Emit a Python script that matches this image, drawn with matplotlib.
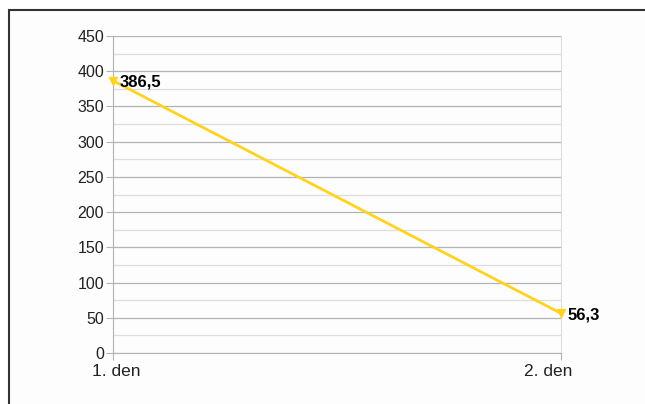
import matplotlib
matplotlib.use("Agg")
import matplotlib.pyplot as plt
from matplotlib.patches import Rectangle
from matplotlib.ticker import MultipleLocator
from matplotlib.transforms import ScaledTranslation

categories = ["1. den", "2. den"]
values = [386.5, 56.3]
labels = ["386,5", "56,3"]

plt.rcParams['font.family'] = ['Liberation Sans', 'DejaVu Sans']

fig = plt.figure(figsize=(6.45, 4.04), dpi=100)
fig.patch.set_facecolor('white')
# outer frame
frame = Rectangle((9/645, -0.01), 1.0, 1 - 10/404 + 0.01, transform=fig.transFigure,
                  facecolor='#fdfdfd', edgecolor='#333333', linewidth=1.5, zorder=-10)
fig.add_artist(frame)

ax = fig.add_axes([113/645, 1 - 353/404, (561 - 113)/645, (353 - 36)/404])
ax.set_zorder(5)
ax.set_facecolor('#fdfdfd')
x = list(range(len(categories)))
ax.plot(x, values, color='#FFD320', linewidth=2, marker='v', markersize=6, zorder=3, clip_on=False)
for xi, v, lab in zip(x, values, labels):
    ax.annotate(lab, (xi, v), xytext=(5, -1), textcoords='offset points', fontsize=12,
                fontweight='bold', color='black', va='center', ha='left')

ax.set_xlim(0, 1)
ax.set_ylim(0, 450)
ax.set_xticks(x)
ax.set_xticklabels(categories, fontsize=12.5, color='#222222')
ax.yaxis.set_major_locator(MultipleLocator(50))
ax.yaxis.set_minor_locator(MultipleLocator(25))
ax.tick_params(axis='y', labelsize=11.5, colors='#222222', length=5, color='#b3b3b3', which='major', pad=1.5)
ax.tick_params(axis='y', which='minor', length=0)
ax.tick_params(axis='x', length=5, color='#b3b3b3', pad=3)
ax.grid(True, axis='y', which='major', color='#b3b3b3', linewidth=0.9)
ax.grid(True, axis='y', which='minor', color='#dddddd', linewidth=0.9)
ax.set_axisbelow(True)
ax.spines['top'].set_visible(False)
ax.spines['left'].set_color('#b3b3b3')
ax.spines['right'].set_color('#dddddd')
ax.spines['bottom'].set_color('#b3b3b3')

shifts = [3, -13]
for lbl, dx in zip(ax.get_xticklabels(), shifts):
    lbl.set_transform(lbl.get_transform() + ScaledTranslation(dx / 100, 0, fig.dpi_scale_trans))

fig.savefig('out.png', dpi=100, facecolor='white')
